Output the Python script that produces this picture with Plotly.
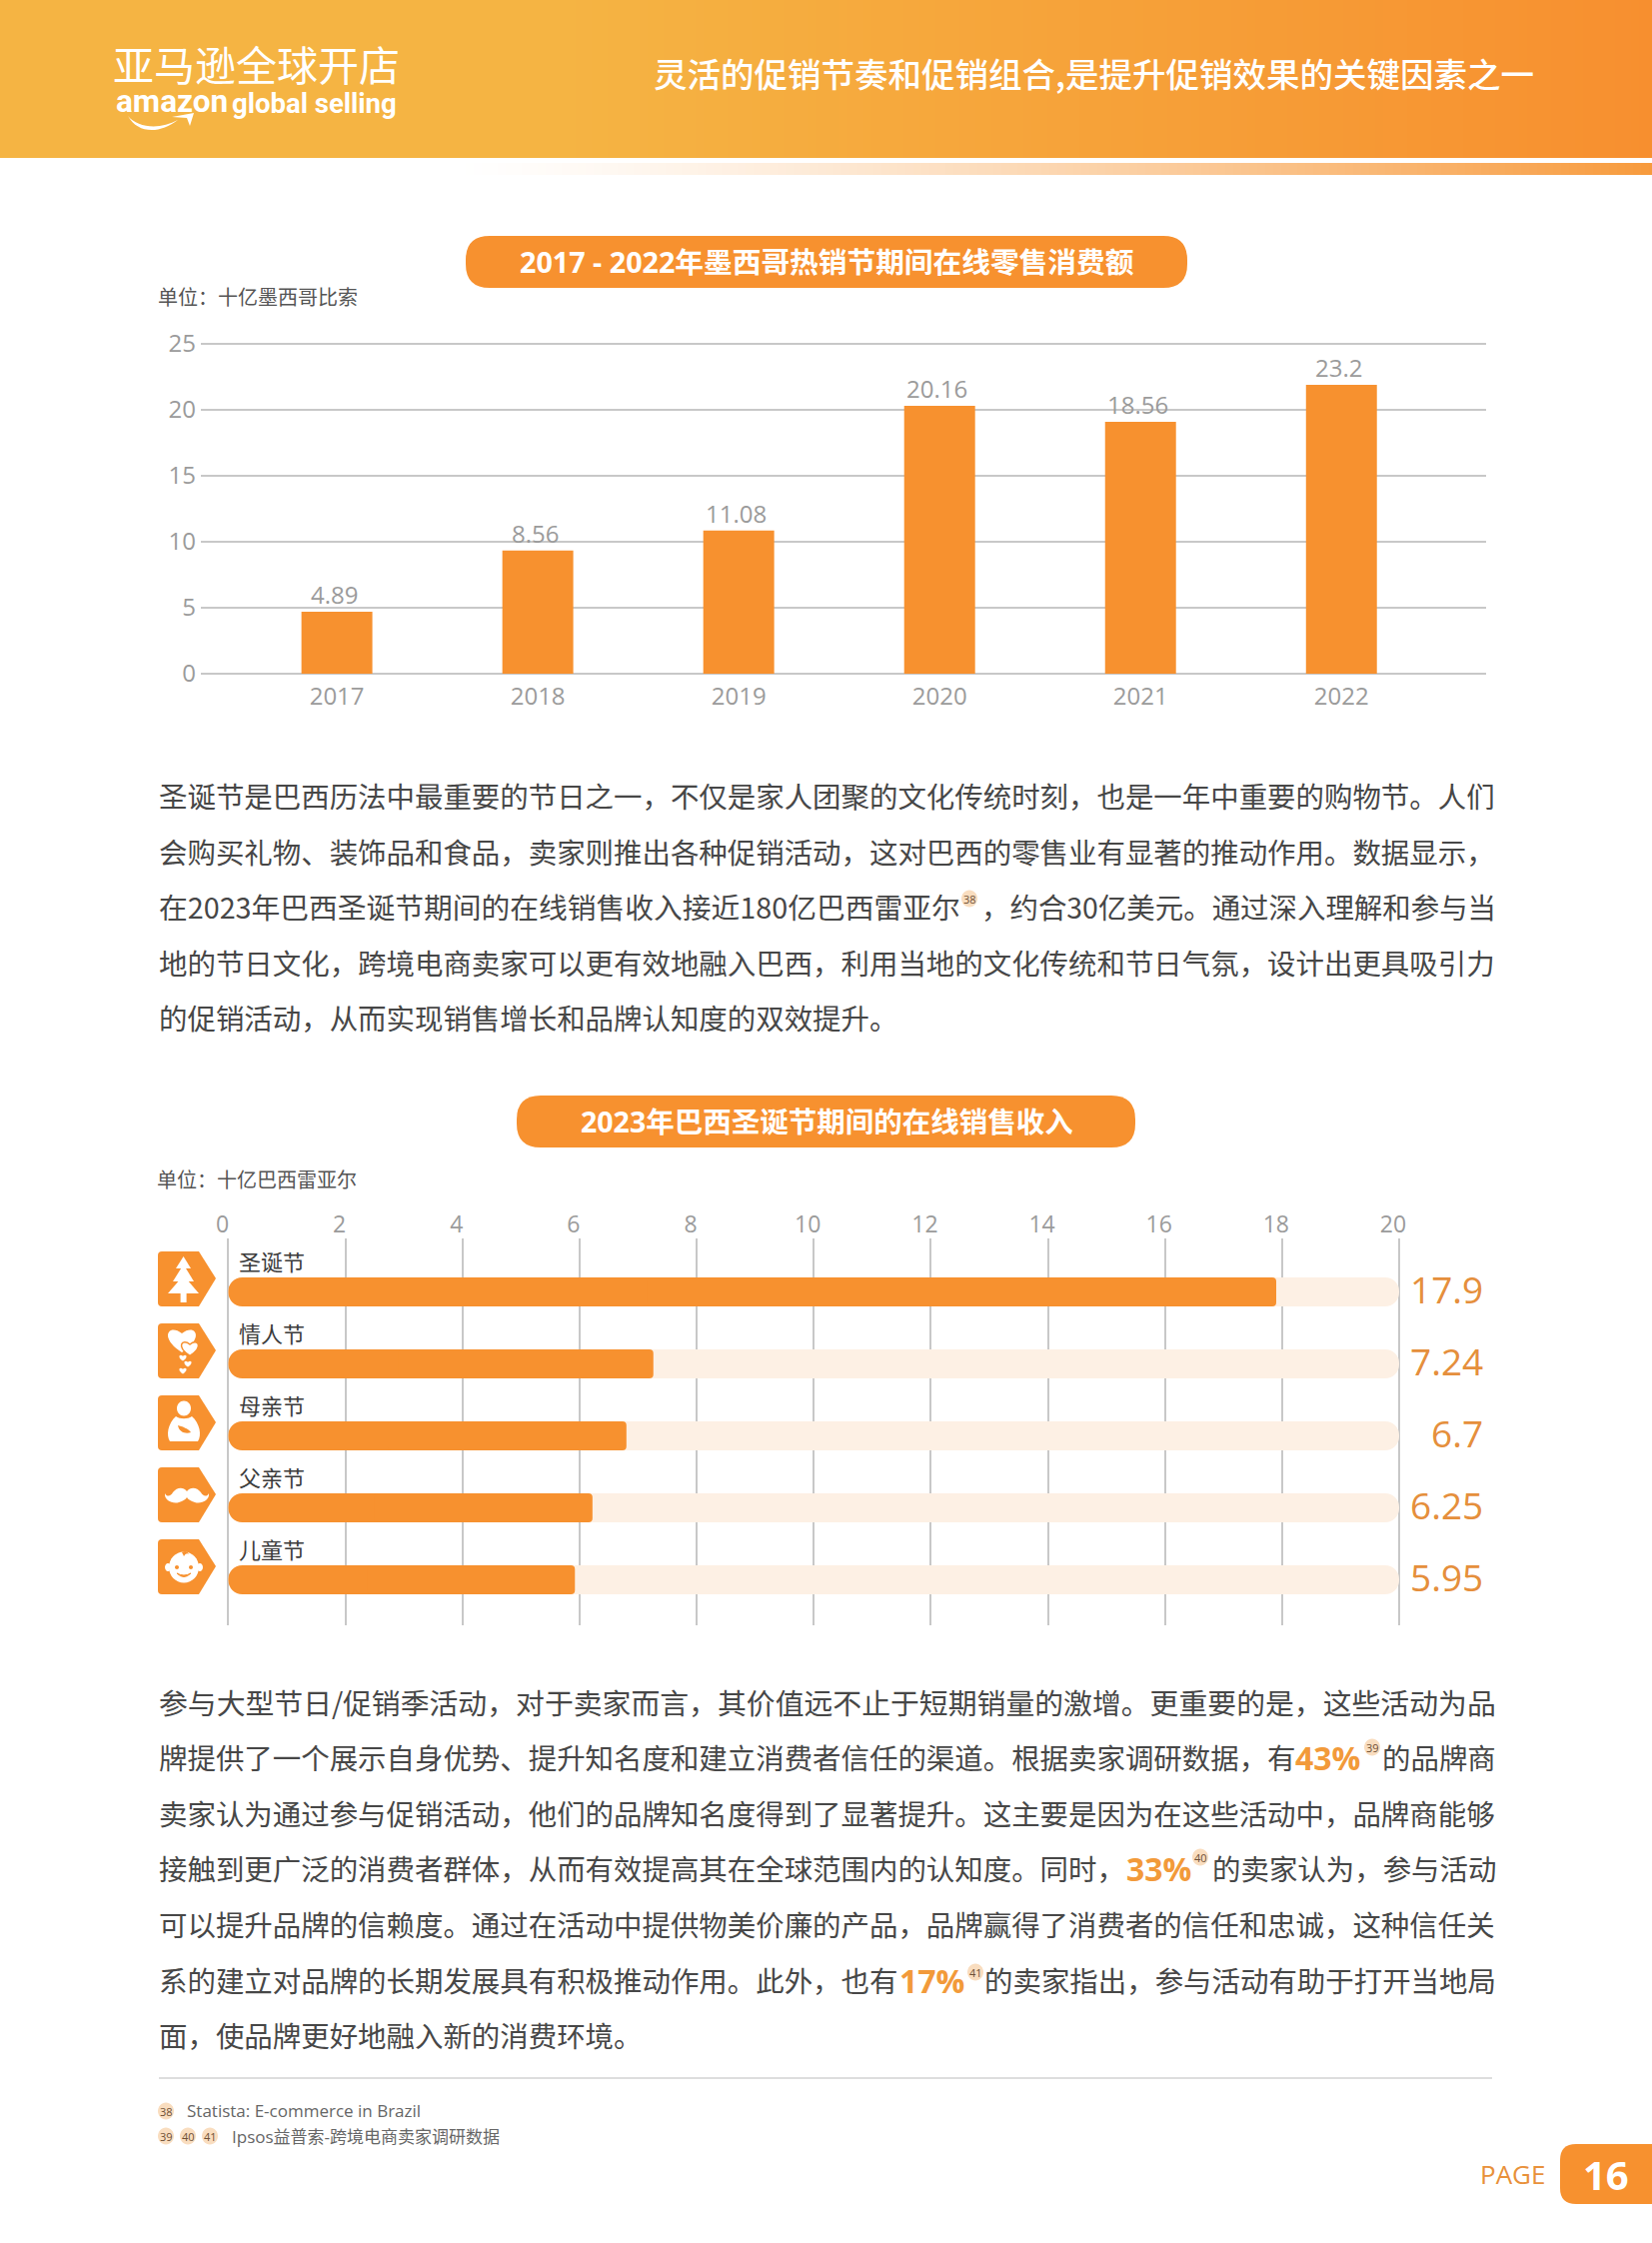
import re
import plotly.graph_objects as go

W = 1653
H = 2244
ORANGE = "#F7912F"
TRACK = "#FDF0E4"
GRID = "#C8C8C8"
TICK = "#9B9B9B"
BODY = "#474747"
HILITE = "#F29A3A"
CJK = "Noto Sans CJK SC"
LATIN = "Open Sans, Noto Sans CJK SC"

# chart 1
years = ["2017", "2018", "2019", "2020", "2021", "2022"]
bar_heights = [4.7, 9.34, 10.85, 20.3, 19.1, 21.9]
bar_labels = ["4.89", "8.56", "11.08", "20.16", "18.56", "23.2"]
y_ticks = [0, 5, 10, 15, 20, 25]

# chart 2
festivals = ["圣诞节", "情人节", "母亲节", "父亲节", "儿童节"]
festival_bars = [17.9, 7.26, 6.8, 6.22, 5.92]
festival_labels = ["17.9", "7.24", "6.7", "6.25", "5.95"]
track_values = [20, 20, 20, 20, 20]
x_ticks = [0, 2, 4, 6, 8, 10, 12, 14, 16, 18, 20]

para1 = [
    "圣诞节是巴西历法中最重要的节日之一,不仅是家人团聚的文化传统时刻,也是一年中重要的购物节。人们",
    "会购买礼物、装饰品和食品,卖家则推出各种促销活动,这对巴西的零售业有显著的推动作用。数据显示,",
    ("在2023年巴西圣诞节期间的在线销售收入接近180亿巴西雷亚尔", ",约合30亿美元。通过深入理解和参与当"),
    "地的节日文化,跨境电商卖家可以更有效地融入巴西,利用当地的文化传统和节日气氛,设计出更具吸引力",
    "的促销活动,从而实现销售增长和品牌认知度的双效提升。",
]
para3 = [
    ("参与大型节日/", "促销季活动,对于卖家而言,其价值远不止于短期销量的激增。更重要的是,这些活动为品"),
    ("牌提供了一个展示自身优势、提升知名度和建立消费者信任的渠道。根据卖家调研数据,有", "的品牌商"),
    "卖家认为通过参与促销活动,他们的品牌知名度得到了显著提升。这主要是因为在这些活动中,品牌商能够",
    ("接触到更广泛的消费者群体,从而有效提高其在全球范围内的认知度。同时,", "的卖家认为,参与活动"),
    "可以提升品牌的信赖度。通过在活动中提供物美价廉的产品,品牌赢得了消费者的信任和忠诚,这种信任关",
    ("系的建立对品牌的长期发展具有积极推动作用。此外,也有", "的卖家指出,参与活动有助于打开当地局"),
    "面,使品牌更好地融入新的消费环境。",
]
para1_y = [795.5, 851.5, 906.5, 962.5, 1017.5]
para3_y = [1702, 1757, 1813, 1868, 1924, 1980, 2035]

shapes = []
notes = []


def fx(x):
    return x / W


def fy(y):
    return 1 - y / H


def wide(s):
    # body copy uses full-width punctuation
    return s.replace(",", "\uff0c").replace(":", "\uff1a")


def text(x, y, s, size, color=BODY, anchor="left", family=CJK, weight=None):
    font = dict(family=family, size=size, color=color)
    if weight:
        font["weight"] = weight
    notes.append(dict(x=fx(x), y=fy(y), xref="paper", yref="paper", text=s, showarrow=False,
                      xanchor=anchor, yanchor="middle", font=font, borderpad=0, borderwidth=0))


def path(d, fill="#FFFFFF", line=None, width=0, layer="above"):
    # path strings are written in page pixels, plotly wants paper fractions here
    nums = iter(range(100000))

    def conv(m):
        v = float(m.group())
        return f"{fx(v):.6f}" if next(nums) % 2 == 0 else f"{fy(v):.6f}"

    shapes.append(dict(type="path", xref="paper", yref="paper", layer=layer,
                       path=re.sub(r"-?\d+\.?\d*", conv, d), fillcolor=fill,
                       line=dict(color=line or fill, width=width)))


def rect(x0, y0, x1, y1, fill, layer="below"):
    shapes.append(dict(type="rect", xref="paper", yref="paper", layer=layer, x0=fx(x0), x1=fx(x1),
                       y0=fy(y0), y1=fy(y1), fillcolor=fill, line=dict(width=0)))


def rrect(x0, y0, x1, y1, r, fill):
    path(f"M {x0 + r} {y0} L {x1 - r} {y0} Q {x1} {y0} {x1} {y0 + r} L {x1} {y1 - r} Q {x1} {y1} {x1 - r} {y1} "
         f"L {x0 + r} {y1} Q {x0} {y1} {x0} {y1 - r} L {x0} {y0 + r} Q {x0} {y0} {x0 + r} {y0} Z", fill, layer="below")


def ellipse(cx, cy, rx, ry, fill="#FFFFFF"):
    k = 0.5523
    path(f"M {cx - rx} {cy} C {cx - rx} {cy - k * ry} {cx - k * rx} {cy - ry} {cx} {cy - ry} "
         f"C {cx + k * rx} {cy - ry} {cx + rx} {cy - k * ry} {cx + rx} {cy} "
         f"C {cx + rx} {cy + k * ry} {cx + k * rx} {cy + ry} {cx} {cy + ry} "
         f"C {cx - k * rx} {cy + ry} {cx - rx} {cy + k * ry} {cx - rx} {cy} Z", fill)


def heart(cx, cy, s, fill="#FFFFFF", line=None, width=0):
    path(f"M {cx} {cy + s} C {cx - 1.7 * s} {cy - 0.1 * s} {cx - 0.9 * s} {cy - 1.1 * s} {cx} {cy - 0.35 * s} "
         f"C {cx + 0.9 * s} {cy - 1.1 * s} {cx + 1.7 * s} {cy - 0.1 * s} {cx} {cy + s} Z", fill, line, width)


def mix(a, b, t):
    ca = [int(a[i:i + 2], 16) for i in (1, 3, 5)]
    cb = [int(b[i:i + 2], 16) for i in (1, 3, 5)]
    return "#%02X%02X%02X" % tuple(round(p + (q - p) * t) for p, q in zip(ca, cb))


def superscript(x, y, s):
    ellipse(x, y, 8, 8.5, "#F9DDBF")
    text(x, y, s, 11, "#6E5036", "center", LATIN)


# header band and the fading strip under it
for x in range(0, W, 8):
    t = max(0, (x - 560) / (W - 560))
    rect(x, 0, x + 9, 158, mix("#F5B443", "#F78F2F", t))
for x in range(450, W, 8):
    t = (x - 450) / (W - 450)
    rect(x, 163, x + 9, 175, mix("#FFFFFF", "#F79A3C", t ** 1.3))

text(113, 63, "亚马逊全球开店", 41, "#FFFFFF")
text(116, 101, "<b>amazon</b>", 31.5, "#FFFFFF", family="Roboto")
text(232, 103, "<b>global selling</b>", 27.5, "#FFFFFF", family="Roboto")
path("M 128 116 C 138 128 160 130 178 120 C 160 134 138 134 128 116 Z")
path("M 172 117 L 194 113 L 190 126 L 187 118 Z")
text(654, 73, "灵活的促销节奏和促销组合,是提升促销效果的关键因素之一", 33.5, "#FFFFFF", weight=500)

# chart titles
rrect(466, 236, 1188, 288, 24, ORANGE)
text(827, 262, "<b>2017 - 2022年墨西哥热销节期间在线零售消费额</b>", 28.7, "#FFFFFF", "center", LATIN)
text(158, 297, wide("单位:十亿墨西哥比索"), 20, "#555555")
rrect(517, 1096, 1136, 1148, 24, ORANGE)
text(827, 1122, "<b>2023年巴西圣诞节期间的在线销售收入</b>", 28.5, "#FFFFFF", "center", LATIN)
text(157, 1179, wide("单位:十亿巴西雷亚尔"), 20, "#555555")

# body text, split lines are pinned to both margins to keep them justified
for lines, ys in ((para1, para1_y), (para3, para3_y)):
    for line, y in zip(lines, ys):
        if isinstance(line, tuple):
            # these two lines get stretched a little by justification in the original
            left_size = 28.85 if line[0].endswith("/") else 28.75 if "2023" in line[0] else 28.45
            right_size = 28.85 if line[0].endswith("/") else 28.45
            text(159, y, wide(line[0]), left_size)
            text(1497, y, wide(line[1]), right_size, anchor="right")
        else:
            text(159, y, wide(line), 28.45)

superscript(970, 899, "38")
text(1296, 1758, "<b>43%</b>", 32, HILITE, family=LATIN)
superscript(1373, 1748, "39")
text(1127, 1869, "<b>33%</b>", 32, HILITE, family=LATIN)
superscript(1201, 1858, "40")
text(900, 1981, "<b>17%</b>", 32, HILITE, family=LATIN)
superscript(976, 1973, "41")

# footnotes and page mark
rect(159, 2078, 1493, 2080, "#DDDDDD")
superscript(166, 2112, "38")
superscript(166, 2137, "39")
superscript(188, 2137, "40")
superscript(210, 2137, "41")
text(187, 2111, "Statista: E-commerce in Brazil", 17, "#666666", family=LATIN)
text(232, 2137, "Ipsos益普索-跨境电商卖家调研数据", 17, "#666666", family=LATIN)
text(1546, 2175, "PAGE", 26, "#E8913B", "right", LATIN)
path("M 1653 2145 L 1577 2145 Q 1561 2145 1561 2161 L 1561 2189 Q 1561 2205 1577 2205 L 1653 2205 Z", ORANGE, layer="below")
text(1607, 2175, "<b>16</b>", 40, "#FFFFFF", "center", LATIN)

# festival icons: tag first, then a white glyph drawn on it
for top in (1252, 1324, 1396, 1468, 1540):
    left = 158
    path(f"M {left + 4} {top} L {left + 41} {top} L {left + 58} {top + 27} L {left + 41} {top + 55} "
         f"L {left + 4} {top + 55} Q {left} {top + 55} {left} {top + 51} L {left} {top + 4} Q {left} {top} {left + 4} {top} Z", ORANGE)

# tree
lx, ty = 158, 1252
path(f"M {lx + 25.6} {ty + 5} L {lx + 33} {ty + 17} L {lx + 18} {ty + 17} Z")
path(f"M {lx + 25.6} {ty + 13} L {lx + 36} {ty + 30} L {lx + 15} {ty + 30} Z")
path(f"M {lx + 25.6} {ty + 24} L {lx + 41} {ty + 42} L {lx + 10} {ty + 42} Z")
rect(lx + 22.6, ty + 41, lx + 28.6, ty + 51, "#FFFFFF", layer="above")
# hearts
ty = 1324
heart(lx + 24, ty + 15, 14)
heart(lx + 32, ty + 24, 8.5, "#FFFFFF", ORANGE, 1.5)
heart(lx + 25, ty + 34, 3.6)
heart(lx + 30, ty + 40, 3.6)
heart(lx + 25, ty + 47, 3.6)
# mother
ty = 1396
ellipse(lx + 26, ty + 13, 7, 7.5)
path(f"M {lx + 18} {ty + 21} C {lx + 22} {ty + 24} {lx + 30} {ty + 24} {lx + 34} {ty + 21} "
     f"C {lx + 42} {ty + 28} {lx + 44} {ty + 40} {lx + 40} {ty + 46} L {lx + 12} {ty + 46} "
     f"C {lx + 8} {ty + 40} {lx + 10} {ty + 28} {lx + 18} {ty + 21} Z")
path(f"M {lx + 20} {ty + 30} C {lx + 24} {ty + 31} {lx + 30} {ty + 33} {lx + 33} {ty + 37} "
     f"C {lx + 28} {ty + 39} {lx + 21} {ty + 37} {lx + 20} {ty + 30} Z", ORANGE)
# mustache
ty = 1468
path(f"M {lx + 29} {ty + 24} C {lx + 25} {ty + 19} {lx + 19} {ty + 20} {lx + 15} {ty + 25} "
     f"C {lx + 13} {ty + 29} {lx + 9} {ty + 30} {lx + 7} {ty + 26} C {lx + 6} {ty + 33} {lx + 15} {ty + 37} {lx + 21} {ty + 35} "
     f"C {lx + 25} {ty + 34} {lx + 28} {ty + 32} {lx + 29} {ty + 30} "
     f"C {lx + 30} {ty + 32} {lx + 33} {ty + 34} {lx + 37} {ty + 35} C {lx + 43} {ty + 37} {lx + 52} {ty + 33} {lx + 51} {ty + 26} "
     f"C {lx + 49} {ty + 30} {lx + 45} {ty + 29} {lx + 43} {ty + 25} C {lx + 39} {ty + 20} {lx + 33} {ty + 19} {lx + 29} {ty + 24} Z")
# baby
ty = 1540
ellipse(lx + 26, ty + 28, 15, 15.5)
ellipse(lx + 10, ty + 28, 3, 4)
ellipse(lx + 42, ty + 28, 3, 4)
ellipse(lx + 19, ty + 28, 2, 2, ORANGE)
ellipse(lx + 33, ty + 28, 2, 2, ORANGE)
path(f"M {lx + 19} {ty + 34} Q {lx + 26} {ty + 41} {lx + 33} {ty + 34} Q {lx + 26} {ty + 38} {lx + 19} {ty + 34} Z", ORANGE, ORANGE, 1)
path(f"M {lx + 24} {ty + 13} Q {lx + 29} {ty + 10} {lx + 31} {ty + 15} Q {lx + 28} {ty + 13} {lx + 26} {ty + 17} Z", ORANGE)

fig = go.Figure()

fig.add_trace(go.Bar(x=years, y=bar_heights, width=0.353, marker=dict(color=ORANGE, line=dict(width=0)),
                     xaxis="x", yaxis="y", showlegend=False))

rows = list(range(len(festivals)))


def hbar(values, left_radius, right_radius, color):
    # plotly rounds both ends of a bar with a base, so two overlapping bars hide each other's inner ends
    fig.add_trace(go.Bar(y=rows, x=[-v * 0.6 for v in values], base=[v * 0.6 for v in values], orientation="h",
                         width=0.403, marker=dict(color=color, line=dict(width=0), cornerradius=left_radius),
                         xaxis="x2", yaxis="y2", showlegend=False))
    fig.add_trace(go.Bar(y=rows, x=[v * 0.6 for v in values], base=[v * 0.4 for v in values], orientation="h",
                         width=0.403, marker=dict(color=color, line=dict(width=0), cornerradius=right_radius),
                         xaxis="x2", yaxis="y2", showlegend=False))


hbar(track_values, 14, 14, TRACK)
hbar(festival_bars, 14, 4, ORANGE)

for i, lab in enumerate(bar_labels):
    notes.append(dict(x=i, y=bar_heights[i], xref="x", yref="y", text=lab, showarrow=False, yshift=17.5, xshift=-3,
                      yanchor="middle", font=dict(family=LATIN, size=24, color=TICK)))
for i, name in enumerate(festivals):
    notes.append(dict(x=0, y=i, xref="x2", yref="y2", text=name, showarrow=False, xanchor="left", yanchor="middle",
                      xshift=9, yshift=32, font=dict(family=CJK, size=22, color="#3C3C3C")))
    notes.append(dict(x=20, y=i, xref="x2", yref="y2", text=festival_labels[i], showarrow=False, xanchor="right",
                      yanchor="middle", xshift=86, yshift=3, font=dict(family=LATIN, size=37, color="#E58F3C")))

fig.update_layout(
    width=W,
    height=H,
    margin=dict(l=0, r=0, t=0, b=0, autoexpand=False),
    paper_bgcolor="#FFFFFF",
    plot_bgcolor="rgba(0,0,0,0)",
    barmode="overlay",
    showlegend=False,
    shapes=shapes,
    annotations=notes,
    xaxis=dict(domain=[fx(201), fx(1487)], anchor="y", type="category", categoryorder="array", categoryarray=years,
               range=[-0.677, 5.72], showgrid=False, zeroline=False, ticks="", ticklabelstandoff=1, automargin=False,
               tickfont=dict(family=LATIN, size=24, color=TICK)),
    # a few pixels of slack on the ranges keep the end gridlines from being clipped away
    yaxis=dict(domain=[fy(679), fy(339)], anchor="x", range=[-0.379, 25.379], tickvals=y_ticks, showgrid=True,
               gridcolor=GRID, gridwidth=2, zeroline=False, ticks="", ticklabelstandoff=4, automargin=False,
               tickfont=dict(family=LATIN, size=24, color=TICK)),
    xaxis2=dict(domain=[fx(224.5), fx(1404)], anchor="y2", side="top", range=[-0.068, 20.068], tickvals=x_ticks,
                showgrid=True, gridcolor=GRID, gridwidth=1.5, zeroline=False, ticks="", ticklabelshift=-6,
                ticklabelstandoff=0, automargin=False, tickfont=dict(family=LATIN, size=23, color=TICK)),
    yaxis2=dict(domain=[fy(1626), fy(1239)], anchor="x2", range=[4.632, -0.743], showgrid=False, zeroline=False,
                showticklabels=False, ticks="", automargin=False),
)

fig.write_html("out.html", config={"displayModeBar": False}, post_script="document.body.style.margin='0';")
